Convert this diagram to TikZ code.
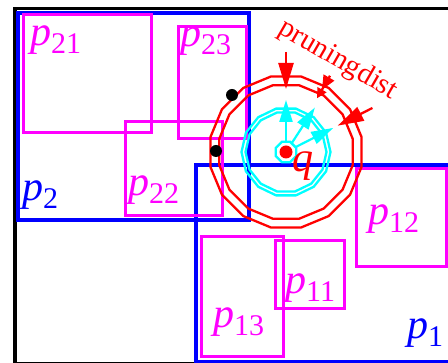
\documentclass[tikz,border=0pt]{standalone}
\usepackage{fontspec}
\setmainfont{Liberation Serif}
\usetikzlibrary{shapes.geometric,arrows.meta,calc}
\definecolor{pblue}{RGB}{0,0,255}
\definecolor{pmag}{RGB}{255,0,255}
\definecolor{pred}{RGB}{255,0,0}
\definecolor{pcyan}{RGB}{0,255,255}
\newcommand{\plab}[1]{\fontsize{42}{42}\selectfont\itshape p\raisebox{-8pt}{\fontsize{30}{30}\selectfont\upshape #1}}
\begin{document}
\begin{tikzpicture}[x=1pt,y=-1pt,
  frame/.style={draw=black,line width=3.5pt},
  bbox/.style={draw=pblue,line width=3.6pt},
  mbox/.style={draw=pmag,line width=3.2pt},
  lab/.style={inner sep=0pt,anchor=base west},
  ring/.style={regular polygon,regular polygon sides=16,draw,inner sep=0pt,outer sep=0pt,line width=2.3pt},
  cyarrow/.style={draw=pcyan,line width=2.2pt,-{Triangle[length=22pt,width=13pt]}},
  rdarrow/.style={draw=pred,line width=2.3pt,-{Triangle[length=26pt,width=15pt]}},
  dot/.style={circle,fill=black,inner sep=0pt,minimum size=12pt}]
\useasboundingbox (0,0) rectangle (448,363);
\begin{scope}
\clip (0,0) rectangle (448,363);
\node[frame,rectangle,inner sep=0pt,anchor=north west,minimum width=460pt,minimum height=355pt] (frm) at (13,7) {};
\node[bbox,rectangle,inner sep=0pt,anchor=north west,minimum width=231pt,minimum height=207pt] (r2) at (16,11) {};
\node[bbox,rectangle,inner sep=0pt,anchor=north west,minimum width=270pt,minimum height=197pt] (r1) at (194,163) {};
\node[mbox,rectangle,inner sep=0pt,anchor=north west,minimum width=128pt,minimum height=118pt] (r21) at (22,13) {};
\node[mbox,rectangle,inner sep=0pt,anchor=north west,minimum width=68pt,minimum height=112pt] (r23) at (177,25) {};
\node[mbox,rectangle,inner sep=0pt,anchor=north west,minimum width=97pt,minimum height=94pt] (r22) at (124,120) {};
\node[mbox,rectangle,inner sep=0pt,anchor=north west,minimum width=90pt,minimum height=98pt] (r12) at (355,167) {};
\node[mbox,rectangle,inner sep=0pt,anchor=north west,minimum width=82pt,minimum height=120pt] (r13) at (200,235) {};
\node[mbox,rectangle,inner sep=0pt,anchor=north west,minimum width=69pt,minimum height=68pt] (r11) at (274,239) {};
\end{scope}
\coordinate (q) at (286,152);
\node[ring,draw=pred,minimum size=154pt] (ro) at (q) {};
\node[ring,draw=pred,minimum size=136pt] (ri) at (q) {};
\node[ring,regular polygon sides=14,draw=pcyan,minimum size=89pt] (co) at (q) {};
\node[ring,regular polygon sides=14,draw=pcyan,minimum size=81pt] (ci) at (q) {};
\node[ring,regular polygon sides=8,draw=pcyan,minimum size=22pt] (cq) at (q) {};
\node[circle,fill=pred,inner sep=0pt,minimum size=13pt] (qd) at (q) {};
\node[dot] (d1) at (232,95) {};
\node[dot] (d2) at (216,151) {};
\coordinate (ct1) at ($(q)+(90:11pt)$);
\coordinate (ch1) at ($(q)+(90:52pt)$);
\coordinate (ct2) at ($(q)+(57:11pt)$);
\coordinate (ch2) at ($(q)+(57:53pt)$);
\coordinate (ct3) at ($(q)+(27:11pt)$);
\coordinate (ch3) at ($(q)+(27:53pt)$);
\draw[cyarrow] (ct1) -- (ch1);
\draw[cyarrow] (ct2) -- (ch2);
\draw[cyarrow] (ct3) -- (ch3);
\coordinate (rt1) at ($(q)+(90:100pt)$);
\coordinate (rh1) at ($(q)+(90:63pt)$);
\coordinate (rt2) at ($(q)+(60:88pt)$);
\coordinate (rh2) at ($(q)+(60:62pt)$);
\coordinate (rt3) at ($(q)+(27:97pt)$);
\coordinate (rh3) at ($(q)+(27:58pt)$);
\draw[rdarrow] (rt1) -- (rh1);
\draw[rdarrow,-{Triangle[length=14pt,width=12pt]Triangle[length=10pt,width=10pt]}] (rt2) -- (rh2);
\draw[rdarrow] (rt3) -- (rh3);
\node[text=pred,rotate=-30,inner sep=0pt,font=\fontsize{29}{29}\selectfont] (pd) at (338,60) {pruningdist};
\node[lab,text=pred,font=\fontsize{42}{42}\selectfont\itshape] (ql) at (292,172) {q};
\node[lab,text=pmag] (l21) at (30,46) {\plab{21}};
\node[lab,text=pmag] (l23) at (180,47) {\plab{23}};
\node[lab,text=pmag] (l22) at (128,196) {\plab{22}};
\node[lab,text=pblue] (l2) at (22,201) {\plab{2}};
\node[lab,text=pmag] (l12) at (368,225) {\plab{12}};
\node[lab,text=pmag] (l11) at (285,294) {\plab{11}};
\node[lab,text=pmag] (l13) at (213,328) {\plab{13}};
\node[lab,text=pblue] (l1) at (407,339) {\plab{1}};
\end{tikzpicture}
\end{document}
